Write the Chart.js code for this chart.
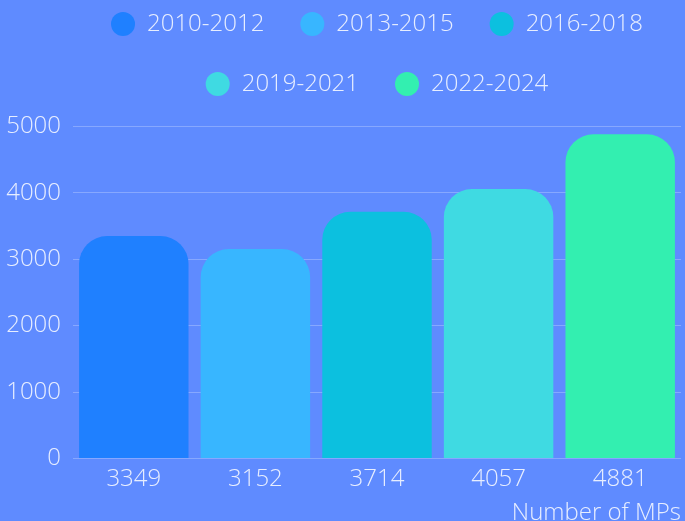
<!DOCTYPE html>
<html>
<head>
<meta charset="utf-8">
<script src="https://cdn.jsdelivr.net/npm/chart.js@4/dist/chart.umd.min.js"></script>
<style>
	html, body { margin: 0; padding: 0; background: #5f8bff; }
	#wrap { width: 685px; height: 521px; }
</style>
</head>
<body>
<div id="wrap"><canvas id="barChart"></canvas></div>
<script>
var periods = ['2010-2012', '2013-2015', '2016-2018', '2019-2021', '2022-2024'];
var mpCounts = [3349, 3152, 3714, 4057, 4881];
var yTicks = [0, 1000, 2000, 3000, 4000, 5000];
var barColors = ['#1f80ff', '#38b6ff', '#0cc0df', '#3fdae2', '#33efb0'];

var TEXT_COLOR = 'rgba(255, 255, 255, .85)';
var FONT = { family: '"Open Sans", sans-serif', size: 24, weight: 300 };

Chart.defaults.font.family = FONT.family;
Chart.defaults.color = TEXT_COLOR;

var ctx = document.getElementById('barChart');
var barChart = new Chart(ctx, {
	type: 'bar',
	data: {
		labels: mpCounts.map(String),
		datasets: [{
			label: 'Number of MPs',
			data: mpCounts,
			backgroundColor: barColors,
			borderRadius: 28,
			borderSkipped: 'start',
			barPercentage: 0.9,
			categoryPercentage: 1
		}]
	},
	options: {
		responsive: true,
		maintainAspectRatio: false,
		animation: false,
		layout: { padding: { left: 0, right: 4, top: -24, bottom: -7 } },
		plugins: {
			tooltip: { enabled: false },
			// empty subtitle used as a spacer under the legend
			subtitle: {
				display: true,
				text: '',
				weight: 500,
				padding: { top: 0, bottom: 6 }
			},
			legend: {
				position: 'top',
				fullSize: false,
				labels: {
					color: TEXT_COLOR,
					font: FONT,
					usePointStyle: true,
					pointStyle: 'circle',
					boxHeight: 17,
					pointStyleWidth: 24,
					padding: 36,
					generateLabels: function(chart) {
						return periods.map(function(p, i) {
							return {
								text: p,
								fillStyle: barColors[i],
								strokeStyle: barColors[i],
								lineWidth: 0,
								pointStyle: 'circle',
								fontColor: TEXT_COLOR,
								index: i
							};
						});
					}
				}
			}
		},
		scales: {
			x: {
				grid: { display: false, drawTicks: false },
				border: { display: false },
				ticks: { font: FONT, color: TEXT_COLOR, padding: 6 },
				title: {
					display: true,
					text: 'Number of MPs',
					align: 'end',
					color: TEXT_COLOR,
					font: FONT,
					padding: { top: 0, bottom: 0 }
				}
			},
			y: {
				min: 0,
				max: 5000,
				afterBuildTicks: function(scale) {
					scale.ticks = yTicks.map(function(v) { return { value: v }; });
				},
				afterFit: function(scale) { scale.width = 73; },
				grid: { color: 'rgba(255, 255, 255, .25)', drawTicks: false },
				border: { display: false },
				ticks: {
					font: FONT,
					color: TEXT_COLOR,
					padding: 12,
					callback: function(v) { return String(v); }
				}
			}
		}
	}
});
</script>
</body>
</html>
